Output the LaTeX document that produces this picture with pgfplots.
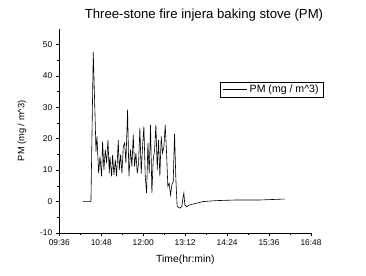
\documentclass[border=0pt]{standalone}
\usepackage{pgfplots}
\pgfplotsset{compat=1.18}
\usepackage{fontspec}
\setmainfont{Liberation Sans}
\begin{document}
\begin{tikzpicture}
\path[use as bounding box] (0,0) rectangle (366bp,276bp);
\begin{axis}[
  at={(59.3bp,43bp)}, anchor=south west,
  scale only axis, width=251.7bp, height=204.4bp,
  xmin=0, xmax=432, ymin=-10, ymax=55,
  axis x line*=bottom, axis y line*=left,
  axis line style={-, line width=0.6pt},
  tick align=outside,
  tick style={black, line width=0.5pt},
  major tick length=3.5bp, minor tick length=2bp,
  xtick={0,72,144,216,288,360,432},
  xticklabels={09:36,10:48,12:00,13:12,14:24,15:36,16:48},
  minor xtick={36,108,180,252,324,396},
  ytick={-10,0,10,20,30,40,50},
  minor ytick={-5,5,15,25,35,45},
  /pgf/number format/assume math mode=true,
  tick label style={font=\fontsize{8.4}{9}\selectfont},
  xlabel={Time(hr:min)}, ylabel={PM (mg / m\^{}3)},
  xlabel style={font=\fontsize{10.4}{12}\selectfont, at={(axis description cs:0.501,-0.132)}, anchor=center},
  ylabel style={font=\fontsize{9.3}{11}\selectfont, at={(axis description cs:-0.148,0.5)}, anchor=center, rotate=0},
  legend style={at={(0.638,0.739)}, anchor=north west, draw=black, line width=0.5pt,
    font=\fontsize{10.6}{12}\selectfont, inner xsep=3bp, inner ysep=1bp},
  legend image code/.code={\draw[#1] (0bp,0bp) -- (24bp,0bp);},
  legend cell align=left,
  clip=false,
]
\addplot[black, line width=0.6pt] coordinates {
(40.1,0) (54.3,0) (58.3,47.5) (62.3,20.7) (62.9,15.9) (64.6,20.7) (67.5,9.0)
(69.8,14.3) (72.6,8.0) (74.3,19.1) (76.6,10.1) (78.9,16.5) (81.2,12.2) (83.5,19.6)
(85.8,9.0) (86.9,14.3) (89.8,8.0) (91.5,14.9) (93.8,8.5) (96.1,13.3) (98.3,8.0)
(101.2,19.6) (102.9,10.1) (105.2,14.9) (107.5,9.0) (109.8,17.5) (112.1,18.6)
(114.3,12.2) (117.2,29.2) (119.5,8.0) (122.3,16.5) (124.6,11.1) (126.9,21.2)
(129.2,11.1) (131.5,15.4) (133.8,9.0) (136.1,12.2) (138.3,23.4) (140.6,9.0)
(142.9,17.5) (145.2,23.9) (147.5,8.0) (149.8,2.7) (152.1,18.6) (154.3,9.0)
(156.6,24.4) (158.9,2.7) (161.2,13.3) (163.5,16.5) (165.8,24.4) (168.1,10.1)
(170.3,19.6) (172.6,8.0) (174.9,20.7) (177.2,15.4) (179.5,17.5) (181.8,24.4)
(184.1,15.4) (186.3,4.8) (188.6,5.8) (190.9,2.1) (193.2,5.3) (195.5,6.4)
(197.8,21.5) (200.1,6.9) (202.3,-1.6) (206.9,-2.1) (210.3,-1.6) (212.6,1.6)
(213.8,2.7) (215.5,-1.1) (218.3,-1.6) (224,-1.05) (246.9,0) (269.8,0.3)
(304,0.5) (344,0.5) (386.9,0.8)
};
\addlegendentry{PM (mg / m\^{}3)}
\end{axis}
\node[font=\fontsize{13.2}{15}\selectfont] at (204bp,261bp) {Three-stone fire injera baking stove (PM)};
\end{tikzpicture}
\end{document}
